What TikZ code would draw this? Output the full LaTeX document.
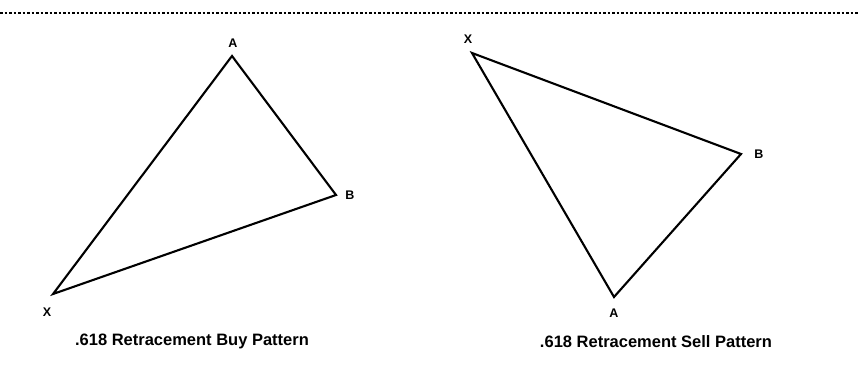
\documentclass[tikz,border=0pt]{standalone}
\usepackage{fontspec}
\setmainfont{Liberation Sans}
\usetikzlibrary{positioning}

\newcommand*{\picw}{858}
\newcommand*{\pich}{371}
\newcommand*{\ruley}{13}

\begin{document}
\begin{tikzpicture}[x=1pt,y=-1pt,
	leg/.style={line width=2.1pt,line join=miter},
	vlabel/.style={font=\bfseries\fontsize{12.5}{12.5}\selectfont},
	caption/.style={font=\bfseries\fontsize{16.5}{16.5}\selectfont}]

	\useasboundingbox (0,0) rectangle (\picw,\pich);

	% dashed rule
	\coordinate (rulel) at (0,\ruley);
	\coordinate (ruler) at (\picw,\ruley);
	\draw[dash pattern=on 2.5pt off 2pt,line width=1.3pt] (rulel) -- (ruler);

	% buy pattern
	\coordinate (bX) at (53,294);
	\coordinate (bA) at (232,56);
	\coordinate (bB) at (336,195);
	\draw[leg] (bX) -- (bA) -- (bB) -- cycle;

	\node[vlabel] (bXlab) at (47,312) {X};
	\node[vlabel] (bAlab) at (233,43) {A};
	\node[vlabel] (bBlab) at (350,195) {B};
	\node[caption] (bcap) at (192,341) {.618 Retracement Buy Pattern};

	% sell pattern
	\coordinate (sX) at (472,53);
	\coordinate (sB) at (741,154);
	\coordinate (sA) at (614,297);
	\draw[leg] (sX) -- (sB) -- (sA) -- cycle;

	\node[vlabel] (sXlab) at (468,39) {X};
	\node[vlabel] (sBlab) at (759,154) {B};
	\node[vlabel] (sAlab) at (614,313) {A};
	\node[caption] (scap) at (656,342) {.618 Retracement Sell Pattern};

\end{tikzpicture}
\end{document}
